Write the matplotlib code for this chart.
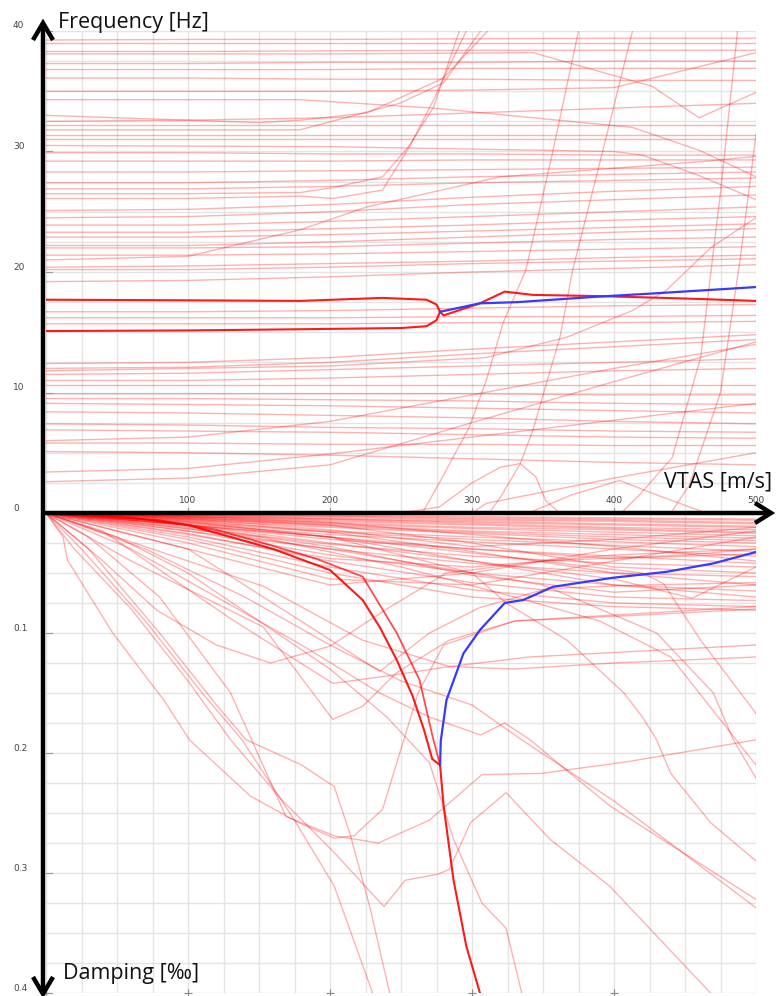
import numpy as np
import matplotlib
matplotlib.use("Agg")
import matplotlib.pyplot as plt
import matplotlib.transforms as mtransforms

plt.rcParams['font.family'] = ['Open Sans', 'DejaVu Sans']

# ---------------- data ----------------
x_ticks = [100, 200, 300, 400, 500]
freq_ticks = [10, 20, 30, 40]
damp_ticks = [0.1, 0.2, 0.3, 0.4]

# nearly flat frequency branches, sampled at these speeds
freq_v = [0, 100, 200, 300, 400, 500]
freq_flat = [
    [39.25, 39.3, 39.3, 39.35, 39.4, 39.4],
    [39.0, 39.0, 39.0, 39.0, 39.0, 39.0],
    [38.3, 38.3, 38.35, 38.4, 38.4, 38.4],
    [37.3, 37.3, 37.4, 37.4, 37.5, 37.5],
    [36.8, 36.8, 36.8, 36.9, 36.9, 36.9],
    [36.1, 36.1, 36.0, 36.0, 35.9, 35.9],
    [35.0, 35.0, 35.0, 35.1, 35.3, 38.2],
    [32.5, 32.6, 32.8, 33.2, 33.6, 34.0],
    [32.2, 32.2, 32.2, 32.2, 32.2, 32.2],
    [31.4, 31.4, 31.4, 31.4, 31.4, 31.4],
    [31.0, 31.0, 31.0, 31.0, 31.0, 31.0],
    [29.9, 29.9, 29.8, 29.8, 29.7, 29.7],
    [29.2, 29.2, 29.2, 29.3, 29.3, 29.3],
    [28.3, 28.3, 28.4, 28.5, 28.6, 28.7],
    [27.4, 27.4, 27.6, 27.9, 28.1, 28.3],
    [26.9, 26.9, 27.1, 27.4, 27.6, 27.8],
    [25.1, 25.2, 25.6, 26.2, 26.7, 27.1],
    [24.5, 24.6, 25.0, 25.6, 26.0, 26.4],
    [23.9, 23.9, 24.2, 24.6, 25.0, 25.4],
    [23.3, 23.3, 23.6, 23.9, 24.3, 24.6],
    [22.9, 22.9, 23.1, 23.4, 23.7, 24.0],
    [22.2, 22.2, 22.5, 22.9, 23.3, 23.6],
    [22.0, 22.0, 22.1, 22.4, 22.7, 22.9],
    [21.4, 21.4, 21.5, 21.7, 21.9, 22.1],
    [20.4, 20.5, 20.7, 20.9, 21.2, 21.4],
    [20.2, 20.2, 20.4, 20.7, 20.9, 21.1],
    [19.2, 19.3, 19.6, 20.0, 20.3, 20.6],
    [16.7, 16.7, 16.8, 17.0, 17.2, 17.3],
    [16.2, 16.2, 16.2, 16.3, 16.3, 16.4],
    [15.7, 15.7, 15.7, 15.8, 15.8, 15.9],
    [12.4, 12.5, 12.9, 13.6, 14.2, 14.8],
    [12.0, 12.1, 12.5, 13.2, 13.8, 14.4],
    [11.5, 11.6, 11.9, 12.2, 12.5, 12.8],
    [11.0, 11.0, 11.2, 11.5, 11.8, 12.0],
    [10.6, 10.6, 10.6, 10.6, 10.6, 10.6],
    [9.9, 9.9, 9.9, 9.9, 9.8, 9.8],
    [9.5, 9.5, 9.4, 9.3, 9.1, 9.0],
    [9.1, 9.0, 8.9, 8.7, 8.5, 8.3],
    [8.4, 8.3, 8.1, 7.9, 7.6, 7.4],
    [7.4, 7.3, 7.1, 7.0, 6.8, 6.7],
    [6.9, 6.8, 6.7, 6.5, 6.3, 6.2],
    [5.8, 5.8, 5.7, 5.7, 5.6, 5.6],
    [5.1, 5.0, 4.8, 4.5, 4.2, 4.0],
    [3.4, 3.7, 4.9, 6.3, 7.7, 9.1],
    [2.6, 2.9, 4.0, 7.5, 10.9, 14.2],
    [6.0, 6.3, 7.6, 9.8, 12.0, 14.0],
]

# frequency branches with individual speed samples (speed list, frequency list)
freq_curves_v = [
    [0, 179, 273, 413, 460, 500],
    [0, 200, 343, 427, 460, 500],
    [0, 200, 400, 420, 460, 500],
    [0, 100, 179, 226, 320, 466, 500],
    [0, 100, 179, 202, 237, 256, 273, 291],
    [0, 100, 179, 202, 237, 256, 273, 280, 296],
    [0, 150, 179, 226, 280, 311],
    [0, 179, 249, 280, 306],
    [0, 200, 310, 367, 413, 437, 468, 500],
    [265, 277, 298, 310, 322, 338, 356, 375],
    [312, 320, 334, 343, 353, 362, 371, 392, 413],
    [405, 418, 441, 461, 475, 487],
    [440, 453, 475, 489, 500],
    [250, 277, 300, 320, 334, 345, 352, 362],
    [340, 370, 404, 430, 465],
    [300, 310, 400, 500],
]
freq_curves_f = [
    [34.3, 34.3, 33.6, 32.0, 30.1, 27.9],
    [38.1, 38.1, 38.2, 35.4, 32.8, 34.9],
    [30.5, 30.4, 30.0, 29.7, 28.0, 26.0],
    [21.0, 21.3, 23.5, 25.4, 27.9, 29.2, 29.6],
    [26.5, 26.5, 26.6, 27.0, 27.9, 30.5, 33.7, 40.0],
    [26.1, 26.1, 26.3, 26.1, 26.8, 30.4, 34.3, 36.1, 40.0],
    [33.0, 32.4, 32.6, 33.2, 36.1, 40.0],
    [31.8, 31.8, 34.0, 35.7, 40.0],
    [11.8, 12.2, 12.9, 14.6, 16.8, 18.5, 22.0, 24.5],
    [0.0, 2.5, 7.1, 11.0, 15.8, 20.2, 29.5, 40.0],
    [0.0, 1.3, 4.1, 6.9, 11.0, 14.6, 20.2, 30.0, 40.0],
    [0.0, 1.5, 4.6, 12.9, 26.6, 40.0],
    [0.0, 2.3, 10.0, 21.2, 31.4],
    [0.0, 0.5, 2.5, 3.8, 4.1, 3.0, 1.0, 0.0],
    [0.0, 1.5, 2.7, 1.5, 0.0],
    [0.0, 0.8, 2.9, 5.0],
]

# coalescing (flutter) pair, frequency
bold_up_v = [0, 100, 179, 237, 268, 275, 277.5]
bold_up_f = [17.7, 17.65, 17.6, 17.85, 17.7, 17.3, 16.7]
bold_lo_v = [0, 100, 179, 250, 268, 275, 277.5]
bold_lo_f = [15.1, 15.15, 15.25, 15.35, 15.5, 16.0, 16.7]
bold_post_v = [277.5, 280, 305.6, 323, 343, 390, 450, 500]
bold_post_f = [16.7, 16.4, 17.4, 18.37, 18.1, 18.0, 17.8, 17.6]
blue_f_v = [277.5, 305.6, 332, 388, 425, 500]
blue_f_f = [16.7, 17.4, 17.5, 17.95, 18.2, 18.75]

# damping band branches, sampled at these speeds
damp_v = [0, 100, 200, 300, 400, 500]
damp_band = [
    [0, 0.001, 0.002, 0.003, 0.004, 0.005],
    [0, 0.0015, 0.0025, 0.004, 0.005, 0.006],
    [0, 0.002, 0.003, 0.005, 0.006, 0.008],
    [0, 0.002, 0.004, 0.006, 0.007, 0.009],
    [0, 0.002, 0.005, 0.007, 0.009, 0.011],
    [0, 0.003, 0.005, 0.008, 0.010, 0.012],
    [0, 0.003, 0.006, 0.009, 0.012, 0.014],
    [0, 0.003, 0.007, 0.010, 0.013, 0.016],
    [0, 0.004, 0.008, 0.012, 0.014, 0.017],
    [0, 0.004, 0.009, 0.013, 0.016, 0.019],
    [0, 0.005, 0.010, 0.015, 0.018, 0.021],
    [0, 0.005, 0.011, 0.016, 0.020, 0.023],
    [0, 0.006, 0.012, 0.017, 0.022, 0.025],
    [0, 0.007, 0.015, 0.020, 0.024, 0.028],
    [0, 0.008, 0.016, 0.022, 0.027, 0.032],
    [0, 0.009, 0.018, 0.024, 0.030, 0.036],
    [0, 0.010, 0.022, 0.030, 0.036, 0.042],
    [0, 0.012, 0.026, 0.036, 0.042, 0.045],
    [0, 0.013, 0.030, 0.042, 0.050, 0.053],
    [0, 0.015, 0.035, 0.050, 0.060, 0.070],
    [0, 0.017, 0.040, 0.058, 0.070, 0.073],
    [0, 0.020, 0.045, 0.064, 0.075, 0.078],
    [0, 0.022, 0.050, 0.070, 0.078, 0.081],
    [0, 0.008, 0.020, 0.040, 0.060, 0.065],
    [0, 0.006, 0.016, 0.032, 0.050, 0.060],
    [0, 0.004, 0.010, 0.025, 0.045, 0.050],
    [0, 0.003, 0.008, 0.018, 0.028, 0.040],
    [0, 0.025, 0.055, 0.060, 0.040, 0.020],
    [0, 0.030, 0.060, 0.050, 0.030, 0.015],
    [0, 0.018, 0.038, 0.045, 0.035, 0.030],
    [0, 0.011, 0.028, 0.052, 0.066, 0.060],
    [0, 0.005, 0.014, 0.028, 0.022, 0.012],
    [0, 0.007, 0.020, 0.030, 0.038, 0.034],
]

# damping branches with individual speed samples
damp_curves_v = [
    [0, 12, 15, 47, 83, 101, 144, 178, 203, 217, 237, 252, 262, 280, 330, 420, 500],
    [0, 20, 60, 100, 130, 166, 203, 238, 253, 276, 284, 299, 324, 355, 397, 468],
    [0, 25, 70, 110, 138, 175, 203, 230],
    [0, 30, 80, 120, 141, 180, 203, 214, 228, 242],
    [0, 30, 80, 130, 169, 203, 234, 270, 307, 349, 411, 500],
    [0, 50, 100, 150, 200, 240, 270, 287, 307, 324, 335],
    [0, 60, 120, 180, 235, 270, 306, 323, 341, 358, 397, 500],
    [0, 70, 140, 200, 250, 300, 335, 400, 500],
    [0, 40, 78, 120, 158, 200, 240, 282, 350, 450, 500],
    [0, 60, 153, 202, 223, 247, 284, 330, 400, 500],
    [0, 40, 130, 202, 245, 284, 340, 420, 500],
    [0, 42, 153, 223, 284, 330, 400, 500],
    [0, 100, 200, 300, 324, 367, 407, 420, 430, 440, 468, 500],
    [0, 200, 350, 430, 470, 484, 500],
    [0, 200, 350, 420, 435, 461, 500],
    [0, 100, 200, 300, 400, 455, 500],
    [0, 100, 235, 270, 305, 353, 420, 500],
    [0, 150, 250, 330, 390, 440, 500],
]
damp_curves_d = [
    [0, 0.02, 0.039, 0.10, 0.156, 0.189, 0.236, 0.258, 0.271, 0.269, 0.247, 0.189, 0.15, 0.11, 0.09, 0.085, 0.08],
    [0, 0.03, 0.08, 0.14, 0.189, 0.239, 0.283, 0.328, 0.306, 0.301, 0.297, 0.258, 0.233, 0.272, 0.311, 0.40],
    [0, 0.03, 0.09, 0.15, 0.189, 0.256, 0.311, 0.40],
    [0, 0.03, 0.10, 0.16, 0.189, 0.21, 0.228, 0.267, 0.328, 0.40],
    [0, 0.02, 0.07, 0.15, 0.253, 0.269, 0.275, 0.256, 0.218, 0.217, 0.207, 0.189],
    [0, 0.02, 0.05, 0.09, 0.13, 0.17, 0.208, 0.272, 0.325, 0.346, 0.40],
    [0, 0.03, 0.07, 0.11, 0.15, 0.17, 0.185, 0.175, 0.189, 0.206, 0.244, 0.322],
    [0, 0.03, 0.07, 0.11, 0.14, 0.16, 0.189, 0.24, 0.329],
    [0, 0.04, 0.081, 0.11, 0.125, 0.111, 0.08, 0.05, 0.04, 0.035, 0.03],
    [0, 0.04, 0.095, 0.172, 0.161, 0.133, 0.106, 0.09, 0.085, 0.078],
    [0, 0.015, 0.088, 0.142, 0.135, 0.128, 0.12, 0.115, 0.11],
    [0, 0.017, 0.061, 0.106, 0.128, 0.13, 0.125, 0.12],
    [0, 0.01, 0.02, 0.05, 0.075, 0.106, 0.15, 0.17, 0.189, 0.217, 0.258, 0.29],
    [0, 0.03, 0.06, 0.10, 0.15, 0.189, 0.221],
    [0, 0.02, 0.04, 0.05, 0.059, 0.106, 0.167],
    [0, 0.01, 0.025, 0.04, 0.055, 0.071, 0.045],
    [0, 0.03, 0.132, 0.10, 0.079, 0.063, 0.06, 0.058],
    [0, 0.02, 0.045, 0.07, 0.09, 0.12, 0.21],
]

# coalescing pair, damping
bold_a_v = [0, 60, 100, 130, 160, 200, 223, 235, 247, 258, 266, 272, 277.5]
bold_a_d = [0, 0.004, 0.01, 0.02, 0.03, 0.0475, 0.0725, 0.095, 0.1225, 0.152, 0.18, 0.205, 0.21]
bold_b_v = [0, 80, 120, 153, 190, 223, 247, 263, 272, 277.5]
bold_b_d = [0, 0.006, 0.014, 0.025, 0.038, 0.053, 0.10, 0.139, 0.185, 0.21]
bold_c_v = [277.5, 280, 287, 296, 305.6]
bold_c_d = [0.21, 0.244, 0.306, 0.361, 0.40]
blue_d_v = [277.5, 278, 282, 294, 305.6, 323, 336, 357, 399, 437, 470, 500]
blue_d_d = [0.21, 0.19, 0.156, 0.117, 0.0975, 0.075, 0.0725, 0.0615, 0.054, 0.049, 0.042, 0.0325]

# ---------------- figure ----------------
W, H = 776, 996
fig = plt.figure(figsize=(W / 100, H / 100), dpi=100)
x_left, x_right = 46, 756
y_top, y_mid, y_bot = 31, 513, 993
ax_f = fig.add_axes([x_left / W, (H - y_mid) / H, (x_right - x_left) / W, (y_mid - y_top) / H])
ax_d = fig.add_axes([x_left / W, (H - y_bot) / H, (x_right - x_left) / W, (y_bot - y_mid) / H])

LIGHT = dict(color='red', alpha=0.3, lw=1.0)
for ax in (ax_f, ax_d):
    ax.set_xlim(0, 500)
    ax.set_xticks(np.arange(0, 501, 25))
    ax.grid(True, color='#e4e4e4', lw=1.0)
    ax.set_axisbelow(True)
    ax.tick_params(length=0, labelleft=False, labelbottom=False)
    for s in ax.spines.values():
        s.set_visible(False)
ax_f.set_ylim(0, 40)
ax_f.set_yticks(np.arange(0, 40.01, 2.5))
ax_d.set_ylim(0.4, 0)
ax_d.set_yticks(np.arange(0, 0.4001, 0.025))

for vals in freq_flat:
    ax_f.plot(freq_v, vals, **LIGHT)
for vv, ff in zip(freq_curves_v, freq_curves_f):
    ax_f.plot(vv, ff, **LIGHT)
ax_f.plot(bold_up_v, bold_up_f, color='red', lw=1.5, alpha=0.9)
ax_f.plot(bold_lo_v, bold_lo_f, color='red', lw=1.5, alpha=0.9)
ax_f.plot(bold_post_v, bold_post_f, color='red', lw=1.5, alpha=0.9)
ax_f.plot(blue_f_v, blue_f_f, color='#3838ff', lw=1.6)

for vals in damp_band:
    ax_d.plot(damp_v, vals, **LIGHT)
for vv, dd in zip(damp_curves_v, damp_curves_d):
    ax_d.plot(vv, dd, **LIGHT)
ax_d.plot(bold_a_v, bold_a_d, color='red', lw=1.5, alpha=0.9)
ax_d.plot(bold_b_v, bold_b_d, color='red', lw=1.3, alpha=0.7)
ax_d.plot(bold_c_v, bold_c_d, color='red', lw=1.5, alpha=0.9)
ax_d.plot(blue_d_v, blue_d_d, color='#3838ff', lw=1.6)

# tick labels
lab = dict(fontsize=6.5, color='#444444', family='DejaVu Sans')
tr_f = mtransforms.offset_copy(mtransforms.blended_transform_factory(fig.transFigure, ax_f.transData), fig=fig, x=0, y=5, units='dots')
tr_d = mtransforms.offset_copy(mtransforms.blended_transform_factory(fig.transFigure, ax_d.transData), fig=fig, x=0, y=5, units='dots')
for f in freq_ticks:
    ax_f.text(13 / W, f, str(f), transform=tr_f, ha='left', va='center', **lab)
    ax_f.plot([0, 4], [f, f], color='#999999', lw=0.8)
ax_f.text(13 / W, 0, '0', transform=tr_f, ha='left', va='center', **lab)
for d in damp_ticks:
    ax_d.text(13 / W, d, f'{d:.1f}', transform=tr_d, ha='left', va='center', **lab)
    ax_d.plot([0, 4], [d, d], color='#999999', lw=0.8, clip_on=False)
tr_x = mtransforms.offset_copy(ax_f.transData, fig=fig, x=0, y=13, units='dots')
for v in x_ticks:
    ax_f.text(v, 0, str(v), transform=tr_x, ha='center', va='center', **lab)
    ax_f.plot([v, v], [0, 0.45], color='#999999', lw=0.8)
ax_d.plot([0] + x_ticks[:-1], [0.4] * 5, '+', color='#888888', ms=6, mew=0.8, clip_on=False)

# arrows and axis titles (overlay in pixel units)
ov = fig.add_axes([0, 0, 1, 1])
ov.set_xlim(0, W)
ov.set_ylim(H, 0)
ov.axis('off')
ov.patch.set_alpha(0)
AL = dict(color='black', lw=3.2, solid_joinstyle='miter', solid_capstyle='butt')
ov.plot([43, 43], [24, 992], **AL)
ov.plot([33, 43, 53], [40, 23, 40], **AL)
ov.plot([33, 43, 53], [977, 994, 977], **AL)
ov.plot([41, 770], [513, 513], **AL)
ov.plot([755, 771, 755], [503, 513, 523], **AL)

tkw = dict(fontsize=15.5, color='#111111', va='baseline', ha='left')
ov.text(58, 28, 'Frequency [Hz]', **tkw)
ov.text(664, 487, 'VTAS [m/s]', **tkw)
ov.text(63, 979, 'Damping [‰]', **tkw)

fig.savefig('out.png', dpi=100)
